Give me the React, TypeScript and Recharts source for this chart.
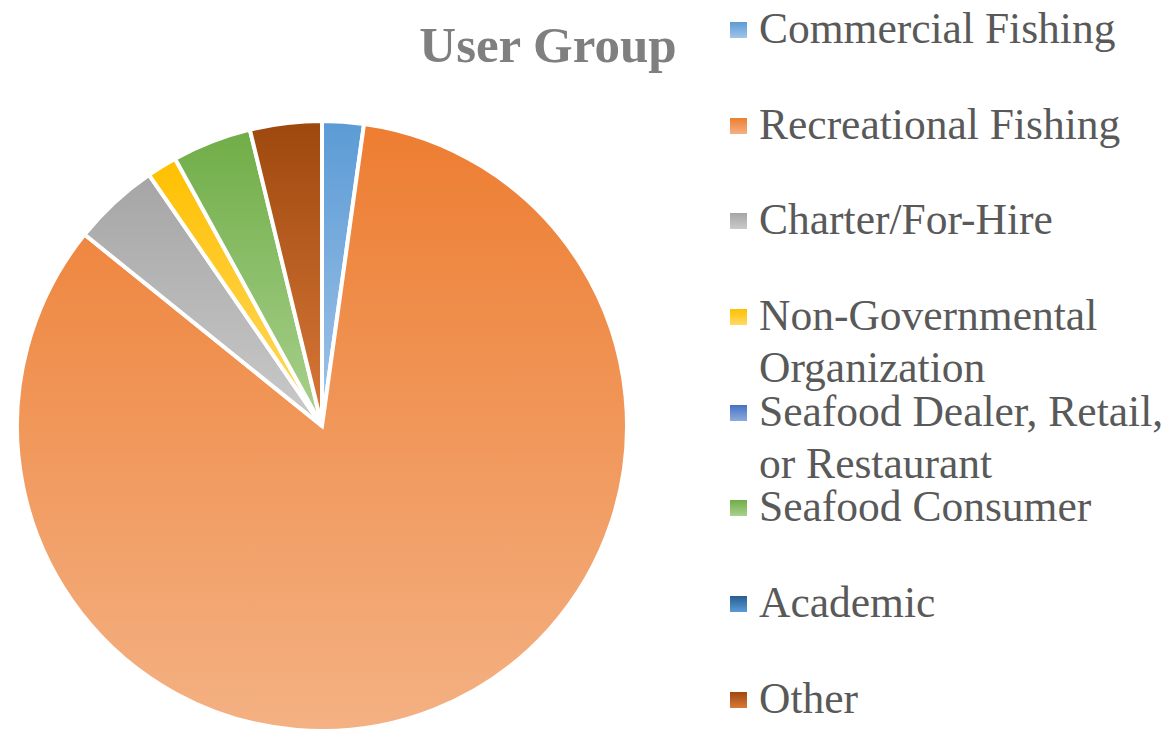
import React from "react";
import { PieChart, Pie, Cell, Legend } from "recharts";

// user groups, in the order the slices run clockwise from 12 o'clock
const groups = [
  "Commercial Fishing",
  "Recreational Fishing",
  "Charter/For-Hire",
  "Non-Governmental Organization",
  "Seafood Dealer, Retail, or Restaurant",
  "Seafood Consumer",
  "Academic",
  "Other",
];

// share of respondents (%)
const shares = [2.2, 83.6, 4.6, 1.6, 0, 4.2, 0, 3.8];

// office-style gradient: darker on top, lighter tint at the bottom
const topColors = ["#5B9BD5", "#ED7D31", "#A5A5A5", "#FFC000", "#4472C4", "#70AD47", "#255E91", "#9E480E"];
const bottomColors = ["#A2C4E8", "#F4B183", "#CACACA", "#FFD966", "#8FAADC", "#A9D18E", "#5B9BD5", "#D9793A"];

const data = groups.map((name, i) => ({ name, value: shares[i] }));

const FONT = "'Liberation Serif', 'Times New Roman', serif";

// legend keeps the data order (recharts would sort it by name otherwise)
const renderLegend = () => (
  <div style={{ fontFamily: FONT, color: "#595959", fontSize: 43.5 }}>
    {data.map((d, i) => (
      <div key={d.name} style={{ position: "relative", height: 95.7 }}>
        <div
          style={{
            position: "absolute",
            left: 0,
            top: 20,
            width: 17,
            height: 16,
            background: `linear-gradient(${topColors[i]}, ${bottomColors[i]})`,
          }}
        />
        <div
          style={{
            position: "absolute",
            left: 29,
            top: 0,
            width: 416,
            lineHeight: "52px",
            whiteSpace: "normal",
          }}
        >
          {d.name}
        </div>
      </div>
    ))}
  </div>
);

export default function App() {
  return (
    <div style={{ position: "absolute", left: 0, top: 0, width: 1176, height: 731, background: "#fff" }}>
      <div
        style={{
          position: "absolute",
          left: 348,
          top: 20,
          width: 400,
          textAlign: "center",
          fontFamily: FONT,
          fontWeight: "bold",
          fontSize: 51,
          lineHeight: 1,
          color: "#7F7F7F",
          zIndex: 2,
        }}
      >
        User Group
      </div>
      <PieChart width={1176} height={731} margin={{ top: 0, right: 0, bottom: 0, left: 0 }}>
        <defs>
          {topColors.map((c, i) => (
            <linearGradient key={i} id={`grad-${i}`} x1="0" y1="0" x2="0" y2="1">
              <stop offset="0%" stopColor={c} />
              <stop offset="100%" stopColor={bottomColors[i]} />
            </linearGradient>
          ))}
        </defs>
        <Pie
          data={data}
          dataKey="value"
          nameKey="name"
          cx={322}
          cy={426}
          outerRadius={305}
          startAngle={90}
          endAngle={-270}
          stroke="#fff"
          strokeWidth={4}
          isAnimationActive={false}
        >
          {data.map((_, i) => (
            <Cell key={i} fill={`url(#grad-${i})`} />
          ))}
        </Pie>
        <Legend
          layout="vertical"
          verticalAlign="top"
          align="right"
          content={renderLegend}
          wrapperStyle={{ left: 730, top: 2, width: 446, right: "auto" }}
        />
      </PieChart>
    </div>
  );
}
